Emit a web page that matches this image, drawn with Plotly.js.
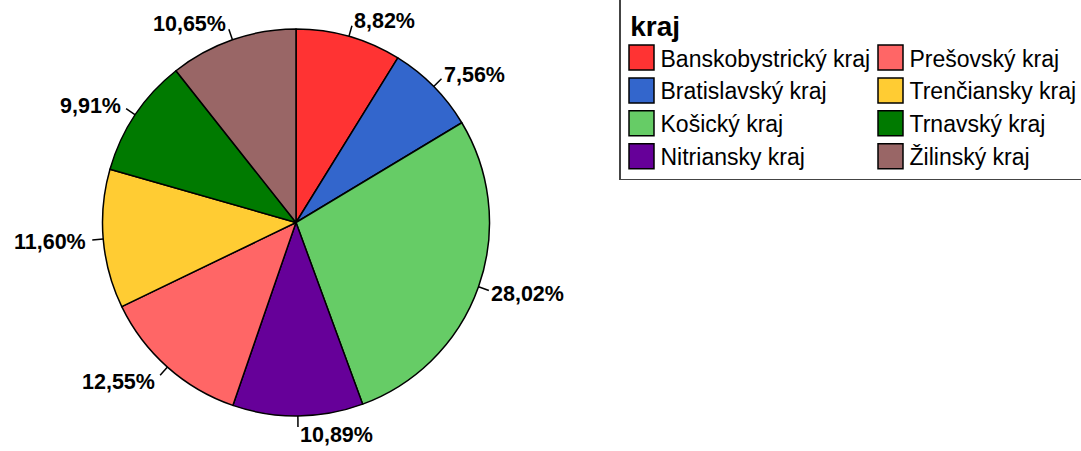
<!DOCTYPE html>
<html><head><meta charset="utf-8">
<script src="https://cdn.plot.ly/plotly-3.0.1.min.js"></script>
<style>html,body{margin:0;padding:0;background:#fff}#chart{width:1081px;height:451px}</style>
</head><body><div id="chart"></div>
<script>
// ---- data ----
const regions = ['Banskobystrický kraj','Bratislavský kraj','Košický kraj','Nitriansky kraj','Prešovský kraj','Trenčiansky kraj','Trnavský kraj','Žilinský kraj'];
const shares = [8.82, 7.56, 28.02, 10.89, 12.55, 11.60, 9.91, 10.65];
const colors = ['#FF3333','#3366CC','#66CC66','#660099','#FF6666','#FFCC33','#007A00','#996666'];
const legendTitle = 'kraj';
const legendOrder = [0,4,1,5,2,6,3,7]; // two columns, legend fills row by row

// ---- layout geometry ----
const W = 1081, H = 451;
const plotW = 619;               // plot area width, legend sits right of it
const cx = 296, cy = 222.5, R = 193.5;
const px = x => x / plotW, py = y => 1 - y / H;

const total = shares.reduce((a,b)=>a+b,0);
let cum = 0;
const shapes = [], annotations = [];
shares.forEach((v,i) => {
  const mid = (cum + v/2) / total * 2*Math.PI; cum += v;
  const s = Math.sin(mid), c = Math.cos(mid);
  const x0 = cx + R*s, y0 = cy - R*c;
  const x1 = cx + (R+11)*s, y1 = cy - (R+11)*c;
  shapes.push({type:'line', xref:'paper', yref:'paper', x0:px(x0), y0:py(y0), x1:px(x1), y1:py(y1), line:{color:'#000', width:1.5}});
  const left = s < -0.02;
  annotations.push({xref:'paper', yref:'paper', x:px(x1), y:py(y1),
    text:'<b>'+v.toFixed(2).replace('.',',')+'%</b>', showarrow:false,
    xanchor: left ? 'right' : 'left', yanchor:'middle',
    xshift: left ? 4*s : 0, yshift: 7*c - 1.5,
    font:{size:21.5,color:'#000'}});
});

const main = {type:'pie', labels:regions, values:shares, sort:false, direction:'clockwise', rotation:0,
  marker:{colors:colors, line:{color:'#000', width:1.5}}, textinfo:'none', hoverinfo:'label+percent',
  showlegend:false, domain:{x:[px(cx-R), px(cx+R)], y:[py(cy+R), py(cy-R)]}};
const legendPie = {type:'pie', labels:legendOrder.map(i=>regions[i]), values:legendOrder.map(i=>shares[i]),
  marker:{colors:legendOrder.map(i=>colors[i]), line:{color:'#000', width:1.5}}, sort:false,
  textinfo:'none', hoverinfo:'skip', showlegend:true,
  domain:{x:[px(cx)-0.0004, px(cx)+0.0004], y:[py(cy)-0.0005, py(cy)+0.0005]}};

const layout = {width:W, height:H, margin:{l:0, r:W-plotW, t:0, b:0, autoexpand:false},
  paper_bgcolor:'#fff', plot_bgcolor:'#fff', separators:', ',
  font:{family:'Liberation Sans, Arial, sans-serif', color:'#000'},
  showlegend:true,
  legend:{orientation:'h', x:1, xanchor:'left', y:1.004, yanchor:'top', entrywidth:204, entrywidthmode:'pixels',
    font:{size:23, color:'#000'}, title:{text:'\u00A0<b>'+legendTitle+'</b>', side:'top', font:{size:28}},
    bgcolor:'#fff', bordercolor:'#444', borderwidth:1.5, traceorder:'normal', itemclick:false, itemdoubleclick:false},
  shapes:shapes, annotations:annotations};

Plotly.newPlot('chart', [main, legendPie], layout, {displayModeBar:false, staticPlot:true}).then(() => {
  document.querySelectorAll('.legend path.legendpie').forEach(p => p.setAttribute('d','M13.5,12.5H-11.5V-12.5H13.5Z'));
});
</script></body></html>
